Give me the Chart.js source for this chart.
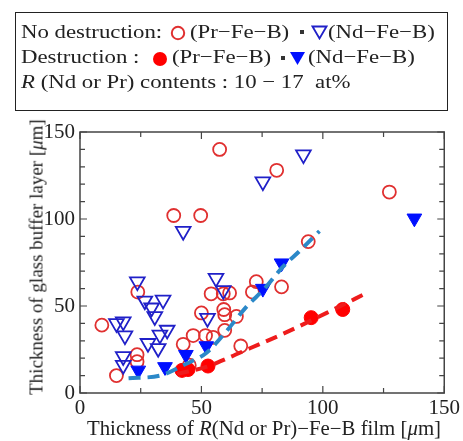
<!DOCTYPE html>
<html>
<head>
<meta charset="utf-8">
<script src="https://cdn.jsdelivr.net/npm/chart.js@4"></script>
<style>
body { margin: 0; width: 463px; height: 441px; position: relative; overflow: hidden; background: #fff;
       font-family: "Liberation Serif", "Times New Roman", serif; color: #222; }
#chart { position: absolute; left: 0; top: 0; }
.box { position: absolute; left: 15px; top: 12px; width: 433px; height: 99px; border: 1.5px solid #222; box-sizing: border-box; }
.txt { position: absolute; font-size: 19px; line-height: 19px; white-space: nowrap; transform: scaleX(1.2); transform-origin: 0 0; }
.mk { position: absolute; }
.dot { position: absolute; width: 4px; height: 4px; background: #333; }
.xtitle { position: absolute; left: 264px; top: 428px; font-size: 20px; line-height: 20px; white-space: nowrap;
          transform: translate(-50%, -50%) scaleX(1.04); }
.ytitle { position: absolute; left: 36px; top: 257px; font-size: 19px; line-height: 19px; white-space: nowrap;
          transform: translate(-50%, -50%) rotate(-90deg); }
</style>
</head>
<body>
<canvas id="chart" width="463" height="441"></canvas>

<div class="box"></div>
<span class="txt" style="left:21px; top:22px;">No destruction:</span>
<svg class="mk" style="left:170px; top:25px;" width="16" height="16"><circle cx="8" cy="8" r="6.2" fill="none" stroke="#e03030" stroke-width="2"/></svg>
<span class="txt" style="left:190px; top:22px;">(Pr−Fe−B)</span>
<div class="dot" style="left:300px; top:30px;"></div>
<svg class="mk" style="left:311px; top:25px;" width="17" height="15"><polygon points="1.5,1.5 15.5,1.5 8.5,13.5" fill="none" stroke="#2020c8" stroke-width="1.8"/></svg>
<span class="txt" style="left:328px; top:22px;">(Nd−Fe−B)</span>

<span class="txt" style="left:21px; top:47px;">Destruction :</span>
<svg class="mk" style="left:152px; top:51px;" width="16" height="16"><circle cx="8" cy="8" r="7" fill="#ff0000"/></svg>
<span class="txt" style="left:172px; top:47px;">(Pr−Fe−B)</span>
<div class="dot" style="left:281px; top:56px;"></div>
<svg class="mk" style="left:289px; top:51px;" width="17" height="15"><polygon points="1,1 16,1 8.5,14" fill="#0010ff"/></svg>
<span class="txt" style="left:308px; top:47px;">(Nd−Fe−B)</span>

<span class="txt" style="left:21px; top:72px;"><i>R</i> (Nd or Pr) contents : 10 − 17 &nbsp;at%</span>

<div class="xtitle">Thickness of <i>R</i>(Nd or Pr)−Fe−B film [<i>μ</i>m]</div>
<div class="ytitle">Thickness of glass buffer layer [<i>μ</i>m]</div>

<script>
// No destruction, Pr-Fe-B (open red circles)
const prOpenX = [9, 15, 23.5, 23.5, 23.8, 38.6, 42.5, 45, 46.6, 49.7, 50, 51.7, 54.8, 54, 57.5, 59, 61.6, 59.2, 59.6, 59.6, 64.4, 66.2, 71, 72.6, 81, 83, 94, 127.4];
const prOpenY = [39, 10, 22, 18, 58, 102, 28, 16, 33, 102, 46, 33, 32, 57, 140, 57, 57.5, 48, 45, 36, 44, 27, 58, 64, 128, 61, 87, 115.5];

// No destruction, Nd-Fe-B (open blue triangles)
const ndOpenX = [15, 17.8, 18.5, 17.8, 17.8, 23.6, 26.7, 29.5, 30.8, 34.2, 28, 32.2, 32.9, 35.9, 42.5, 52.5, 56, 59, 75.3, 92];
const ndOpenY = [40, 41, 33, 21, 16, 64, 53, 49, 44, 53.5, 28.6, 25.7, 33.4, 36.2, 93, 43, 66, 59, 121.5, 137];

// Destruction, Pr-Fe-B (filled red circles)
const prFillX = [42, 44.5, 52.7, 95.2, 108.2];
const prFillY = [13, 13.5, 15.5, 43.3, 48];

// Destruction, Nd-Fe-B (filled blue triangles)
const ndFillX = [24, 35, 43.6, 52, 75.3, 83, 137.7];
const ndFillY = [13, 15, 22, 27, 60, 74.6, 100.4];

// boundary lines (dashed)
const ndLineX = [20, 33, 44, 52, 60, 68.5, 76, 83.6, 90, 98.6];
const ndLineY = [8.5, 10, 17, 23, 35, 49.5, 60, 72.6, 81, 93];
const prLineX = [40, 52, 61.6, 70, 83.6, 104, 117.8];
const prLineY = [11, 15, 20.5, 25.7, 34, 47.7, 57.3];

const xTicks = [0, 50, 100, 150];
const yTicks = [0, 50, 100, 150];

const pts = (xs, ys) => xs.map((x, i) => ({ x: x, y: ys[i] }));
const tickFont = { family: '"Liberation Serif", "Times New Roman", serif', size: 21 };

// frame + inward ticks on all four sides
const frameTicks = {
    id: 'frameTicks',
    afterDraw(chart) {
        const { ctx, chartArea: a, scales: { x, y } } = chart;
        ctx.save();
        ctx.strokeStyle = '#444';
        ctx.lineWidth = 1.5;
        ctx.strokeRect(a.left, a.top, a.right - a.left, a.bottom - a.top);
        ctx.lineWidth = 1.2;
        ctx.beginPath();
        for (let v = 0; v <= 150; v += 25) {
            const px = x.getPixelForValue(v);
            const len = v % 50 === 0 ? 7 : 5;
            ctx.moveTo(px, a.bottom); ctx.lineTo(px, a.bottom - len);
            ctx.moveTo(px, a.top); ctx.lineTo(px, a.top + len);
        }
        for (let v = 0; v <= 150; v += 10) {
            const py = y.getPixelForValue(v);
            const len = v % 50 === 0 ? 7 : 5;
            ctx.moveTo(a.left, py); ctx.lineTo(a.left + len, py);
            ctx.moveTo(a.right, py); ctx.lineTo(a.right - len, py);
        }
        ctx.stroke();
        ctx.restore();
    }
};

const ctx = document.getElementById('chart').getContext('2d');
const chart = new Chart(ctx, {
    type: 'scatter',
    data: {
        datasets: [
            {
                type: 'line',
                data: pts(ndLineX, ndLineY),
                borderColor: '#2b88c8',
                borderWidth: 4,
                borderDash: [12, 7],
                cubicInterpolationMode: 'monotone',
                pointRadius: 0,
                fill: false
            },
            {
                type: 'line',
                data: pts(prLineX, prLineY),
                borderColor: '#ee1c1c',
                borderWidth: 4,
                borderDash: [12, 7],
                cubicInterpolationMode: 'monotone',
                pointRadius: 0,
                fill: false
            },
            {
                data: pts(ndFillX, ndFillY),
                pointStyle: 'triangle',
                rotation: 180,
                pointRadius: 8.5,
                backgroundColor: '#0010ff',
                borderColor: '#0010ff',
                borderWidth: 1
            },
            {
                data: pts(prFillX, prFillY),
                pointStyle: 'circle',
                pointRadius: 7,
                backgroundColor: '#ff0000',
                borderColor: '#ff0000',
                borderWidth: 1
            },
            {
                data: pts(ndOpenX, ndOpenY),
                pointStyle: 'triangle',
                rotation: 180,
                pointRadius: 8.5,
                backgroundColor: 'rgba(0,0,0,0)',
                borderColor: '#2020c8',
                borderWidth: 1.8
            },
            {
                data: pts(prOpenX, prOpenY),
                pointStyle: 'circle',
                pointRadius: 6.5,
                backgroundColor: 'rgba(0,0,0,0)',
                borderColor: '#e03030',
                borderWidth: 1.8
            }
        ]
    },
    options: {
        responsive: false,
        animation: false,
        layout: { padding: { top: 132, right: 17, left: 0, bottom: 0 } },
        plugins: { legend: { display: false }, tooltip: { enabled: false } },
        scales: {
            x: {
                min: 0, max: 150,
                grid: { display: false, drawTicks: false },
                border: { display: false },
                afterBuildTicks: s => { s.ticks = xTicks.map(v => ({ value: v })); },
                ticks: { font: tickFont, color: '#222', padding: 3, maxRotation: 0 },
                afterFit: s => { s.height = 48; }
            },
            y: {
                min: 0, max: 150,
                grid: { display: false, drawTicks: false },
                border: { display: false },
                afterBuildTicks: s => { s.ticks = yTicks.map(v => ({ value: v })); },
                ticks: { font: tickFont, color: '#222', padding: 5 },
                afterFit: s => { s.width = 80; }
            }
        }
    },
    plugins: [frameTicks]
});
</script>
</body>
</html>
